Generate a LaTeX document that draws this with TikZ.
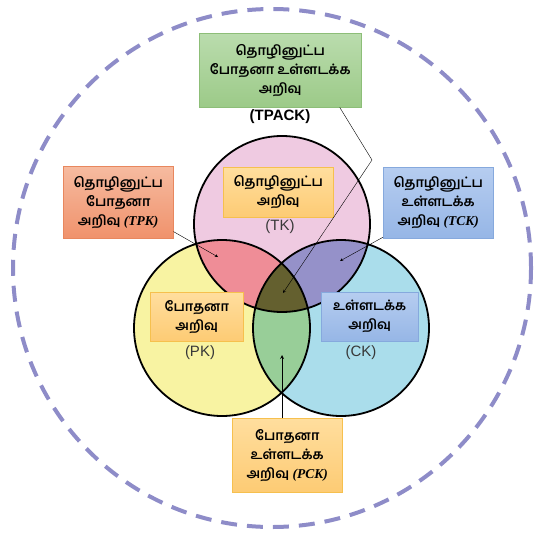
\documentclass[tikz,border=0pt]{standalone}
\usepackage{fontspec}
\setmainfont{Liberation Serif}
\setsansfont{Liberation Sans}
\newfontfamily\tamil[Script=Tamil]{Hind Madurai}
\definecolor{ring}{HTML}{8E8CC8}
\definecolor{tkpink}{HTML}{EFCAE1}
\definecolor{pkyellow}{HTML}{F8F3A2}
\definecolor{ckblue}{HTML}{AADDEB}
\definecolor{tpred}{HTML}{EF8D97}
\definecolor{tcpurple}{HTML}{9591C9}
\definecolor{pcgreen}{HTML}{98CE98}
\definecolor{olive}{HTML}{64602F}
\definecolor{goldtop}{HTML}{FFDE9E}
\definecolor{goldbot}{HTML}{FDCB74}
\definecolor{goldline}{HTML}{F6C04E}
\definecolor{skytop}{HTML}{B6CDF0}
\definecolor{skybot}{HTML}{96B6E6}
\definecolor{skyline}{HTML}{86A9DD}
\definecolor{greentop}{HTML}{BADCAD}
\definecolor{greenbot}{HTML}{9CCA88}
\definecolor{greenline}{HTML}{8DBE78}
\definecolor{salmtop}{HTML}{F6BBA0}
\definecolor{salmbot}{HTML}{F0926C}
\definecolor{salmline}{HTML}{E8875E}
\begin{document}
\begin{tikzpicture}[x=1pt,y=-1pt,>=stealth,
    lbl/.style={rectangle,draw,align=center,inner sep=0pt,anchor=north west,
      minimum width=110pt,font=\tamil\bfseries\fontsize{13.5}{19}\selectfont},
    gold/.style={lbl,draw=goldline,top color=goldtop,bottom color=goldbot},
    sky/.style={lbl,draw=skyline,top color=skytop,bottom color=skybot},
    abbr/.style={font=\sffamily\fontsize{15}{15}\selectfont,text=black!78}]
  \useasboundingbox (0,0) rectangle (534,532);
  % outer ring
  \draw[ring,line width=4pt,dash pattern=on 16pt off 10pt] (272,268) circle[radius=259];
  % circles
  \fill[tkpink] (282,224) circle[radius=88];
  \fill[pkyellow] (222,328) circle[radius=88];
  \fill[ckblue] (341,328) circle[radius=88];
  \begin{scope}
    \clip (282,224) circle[radius=88];
    \fill[tpred] (222,328) circle[radius=88];
    \fill[tcpurple] (341,328) circle[radius=88];
  \end{scope}
  \begin{scope}
    \clip (222,328) circle[radius=88];
    \fill[pcgreen] (341,328) circle[radius=88];
    \clip (341,328) circle[radius=88];
    \fill[olive] (282,224) circle[radius=88];
  \end{scope}
  \draw[line width=1.8pt] (282,224) circle[radius=88] (222,328) circle[radius=88] (341,328) circle[radius=88];
  % abbreviations
  \node[abbr] (tkabbr) at (280,227) {(TK)};
  \node[abbr] (pkabbr) at (200,353) {(PK)};
  \node[abbr] (ckabbr) at (361,353) {(CK)};
  \node[font=\sffamily\bfseries\fontsize{15}{15}\selectfont] (tpackabbr) at (280,117) {(TPACK)};
  % boxes
  \node[lbl,draw=greenline,top color=greentop,bottom color=greenbot,
    minimum width=162pt,minimum height=74pt] (tpack) at (199,33) {தொழினுட்ப\\போதனா உள்ளடக்க\\அறிவு};
  \node[lbl,draw=salmline,top color=salmtop,bottom color=salmbot,
    minimum height=72pt] (tpk) at (63,166) {தொழினுட்ப\\போதனா\\அறிவு {\rmfamily\bfseries\itshape (TPK)}};
  \node[sky,minimum height=71pt] (tck) at (383,167) {தொழினுட்ப\\உள்ளடக்க\\அறிவு {\rmfamily\bfseries\itshape (TCK)}};
  \node[gold,minimum height=50pt] (tk) at (223,167) {தொழினுட்ப\\அறிவு};
  \node[gold,minimum width=93pt,minimum height=49pt] (pk) at (150,292) {போதனா\\அறிவு};
  \node[sky,minimum width=97pt,minimum height=49pt] (ck) at (321,292) {உள்ளடக்க\\அறிவு};
  \node[gold,minimum height=74pt] (pck) at (232,418) {போதனா\\உள்ளடக்க\\அறிவு {\rmfamily\bfseries\itshape (PCK)}};
  % arrows
  \coordinate (bend) at (372,160);
  \coordinate (tpackend) at (283,293);
  \coordinate (tpkend) at (218,257);
  \coordinate (tckend) at (340,261);
  \coordinate (pckend) at (282,355);
  \draw[->] (tpack.-32) -- (bend) -- (tpackend);
  \draw[->] (tpk.-28) -- (tpkend);
  \draw[->] (tck.212) -- (tckend);
  \draw[->,line width=0.8pt] (pck.north -| pckend) -- (pckend);
\end{tikzpicture}
\end{document}
